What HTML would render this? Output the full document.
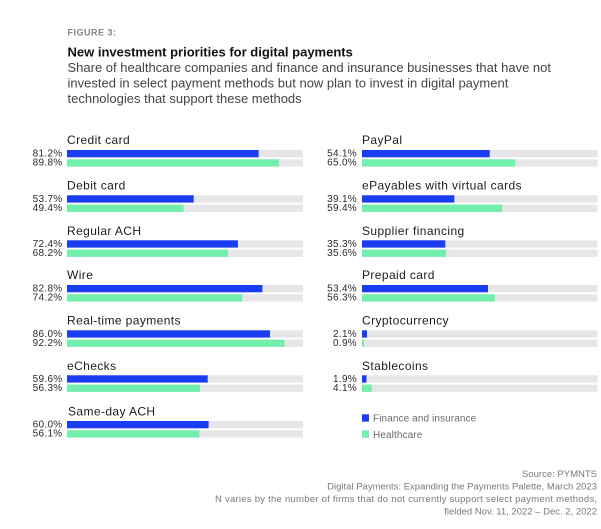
<!DOCTYPE html>
<html>
<head>
<meta charset="utf-8">
<style>
  html, body { margin: 0; padding: 0; background: #ffffff; }
  body { width: 601px; height: 529px; overflow: hidden; }
  svg { display: block; }
  text { font-family: "Liberation Sans", "DejaVu Sans", sans-serif; }
  .cat { font-size: 12px; letter-spacing: 0.4px; fill: #1c1c1c; }
  .pct { font-size: 10px; letter-spacing: 0.3px; fill: #2a2a2a; }
  .trk { fill: #e6e6e8; }
  .b { fill: #1a3cf3; }
  .g { fill: #72efad; }
  .foot { font-size: 9.5px; fill: #7a7a7a; }
  .leg { font-size: 10px; fill: #6a6a6a; letter-spacing: 0.1px; }
</style>
</head>
<body>
<svg width="601" height="529" viewBox="0 0 601 529" xmlns="http://www.w3.org/2000/svg">
  <rect x="0" y="0" width="601" height="529" fill="#ffffff"/>

  <!-- Header -->
  <text x="67.5" y="35.3" style="font-size:9px;font-weight:bold;letter-spacing:0.5px;fill:#858585;">FIGURE 3:</text>
  <text x="67.5" y="56.7" style="font-size:13px;font-weight:bold;fill:#111111;">New investment priorities for digital payments</text>
  <text x="67.5" y="72" style="font-size:13px;fill:#444444;">Share of healthcare companies and finance and insurance businesses that have not</text>
  <text x="67.5" y="87.5" style="font-size:13px;fill:#444444;">invested in select payment methods but now plan to invest in digital payment</text>
  <text x="67.5" y="103" style="font-size:13px;fill:#444444;">technologies that support these methods</text>

  <!-- LEFT COLUMN -->
  <text class="cat" x="67" y="144">Credit card</text>
  <rect class="trk" x="67" y="150" width="236" height="7.3"/>
  <rect class="b" x="67" y="150" width="191.6" height="7.3"/>
  <rect class="trk" x="67" y="159.3" width="236" height="7.3"/>
  <rect class="g" x="67" y="159.3" width="211.9" height="7.3"/>
  <text class="pct" x="62.5" y="156.5" text-anchor="end">81.2%</text>
  <text class="pct" x="62.5" y="165.5" text-anchor="end">89.8%</text>

  <text class="cat" x="67" y="189.3">Debit card</text>
  <rect class="trk" x="67" y="195.3" width="236" height="7.3"/>
  <rect class="b" x="67" y="195.3" width="126.7" height="7.3"/>
  <rect class="trk" x="67" y="204.6" width="236" height="7.3"/>
  <rect class="g" x="67" y="204.6" width="116.6" height="7.3"/>
  <text class="pct" x="62.5" y="201.8" text-anchor="end">53.7%</text>
  <text class="pct" x="62.5" y="210.8" text-anchor="end">49.4%</text>

  <text class="cat" x="67" y="235">Regular ACH</text>
  <rect class="trk" x="67" y="240.3" width="236" height="7.3"/>
  <rect class="b" x="67" y="240.3" width="170.9" height="7.3"/>
  <rect class="trk" x="67" y="249.6" width="236" height="7.3"/>
  <rect class="g" x="67" y="249.6" width="161.0" height="7.3"/>
  <text class="pct" x="62.5" y="246.8" text-anchor="end">72.4%</text>
  <text class="pct" x="62.5" y="255.8" text-anchor="end">68.2%</text>

  <text class="cat" x="67" y="279">Wire</text>
  <rect class="trk" x="67" y="285" width="236" height="7.3"/>
  <rect class="b" x="67" y="285" width="195.4" height="7.3"/>
  <rect class="trk" x="67" y="294.3" width="236" height="7.3"/>
  <rect class="g" x="67" y="294.3" width="175.1" height="7.3"/>
  <text class="pct" x="62.5" y="291.5" text-anchor="end">82.8%</text>
  <text class="pct" x="62.5" y="300.5" text-anchor="end">74.2%</text>

  <text class="cat" x="67" y="324.3">Real-time payments</text>
  <rect class="trk" x="67" y="330.3" width="236" height="7.3"/>
  <rect class="b" x="67" y="330.3" width="203.0" height="7.3"/>
  <rect class="trk" x="67" y="339.6" width="236" height="7.3"/>
  <rect class="g" x="67" y="339.6" width="217.6" height="7.3"/>
  <text class="pct" x="62.5" y="336.8" text-anchor="end">86.0%</text>
  <text class="pct" x="62.5" y="345.8" text-anchor="end">92.2%</text>

  <text class="cat" x="67" y="370">eChecks</text>
  <rect class="trk" x="67" y="375.3" width="236" height="7.3"/>
  <rect class="b" x="67" y="375.3" width="140.7" height="7.3"/>
  <rect class="trk" x="67" y="384.6" width="236" height="7.3"/>
  <rect class="g" x="67" y="384.6" width="132.9" height="7.3"/>
  <text class="pct" x="62.5" y="381.8" text-anchor="end">59.6%</text>
  <text class="pct" x="62.5" y="390.8" text-anchor="end">56.3%</text>

  <text class="cat" x="68" y="415.7">Same-day ACH</text>
  <rect class="trk" x="67" y="421" width="236" height="7.3"/>
  <rect class="b" x="67" y="421" width="141.6" height="7.3"/>
  <rect class="trk" x="67" y="430.3" width="236" height="7.3"/>
  <rect class="g" x="67" y="430.3" width="132.4" height="7.3"/>
  <text class="pct" x="62.5" y="427.5" text-anchor="end">60.0%</text>
  <text class="pct" x="62.5" y="436.5" text-anchor="end">56.1%</text>

  <!-- RIGHT COLUMN -->
  <text class="cat" x="362" y="144">PayPal</text>
  <rect class="trk" x="362" y="150" width="235.5" height="7.3"/>
  <rect class="b" x="362" y="150" width="127.7" height="7.3"/>
  <rect class="trk" x="362" y="159.3" width="235.5" height="7.3"/>
  <rect class="g" x="362" y="159.3" width="153.4" height="7.3"/>
  <text class="pct" x="357" y="156.5" text-anchor="end">54.1%</text>
  <text class="pct" x="357" y="165.5" text-anchor="end">65.0%</text>

  <text class="cat" x="362" y="189.3">ePayables with virtual cards</text>
  <rect class="trk" x="362" y="195.3" width="235.5" height="7.3"/>
  <rect class="b" x="362" y="195.3" width="92.3" height="7.3"/>
  <rect class="trk" x="362" y="204.6" width="235.5" height="7.3"/>
  <rect class="g" x="362" y="204.6" width="140.2" height="7.3"/>
  <text class="pct" x="357" y="201.8" text-anchor="end">39.1%</text>
  <text class="pct" x="357" y="210.8" text-anchor="end">59.4%</text>

  <text class="cat" x="362" y="235">Supplier financing</text>
  <rect class="trk" x="362" y="240.3" width="235.5" height="7.3"/>
  <rect class="b" x="362" y="240.3" width="83.3" height="7.3"/>
  <rect class="trk" x="362" y="249.6" width="235.5" height="7.3"/>
  <rect class="g" x="362" y="249.6" width="84.0" height="7.3"/>
  <text class="pct" x="357" y="246.8" text-anchor="end">35.3%</text>
  <text class="pct" x="357" y="255.8" text-anchor="end">35.6%</text>

  <text class="cat" x="362" y="279">Prepaid card</text>
  <rect class="trk" x="362" y="285" width="235.5" height="7.3"/>
  <rect class="b" x="362" y="285" width="126.0" height="7.3"/>
  <rect class="trk" x="362" y="294.3" width="235.5" height="7.3"/>
  <rect class="g" x="362" y="294.3" width="132.9" height="7.3"/>
  <text class="pct" x="357" y="291.5" text-anchor="end">53.4%</text>
  <text class="pct" x="357" y="300.5" text-anchor="end">56.3%</text>

  <text class="cat" x="362" y="324.3">Cryptocurrency</text>
  <rect class="trk" x="362" y="330.3" width="235.5" height="7.3"/>
  <rect class="b" x="362" y="330.3" width="5.0" height="7.3"/>
  <rect class="trk" x="362" y="339.6" width="235.5" height="7.3"/>
  <rect class="g" x="362" y="339.6" width="2.1" height="7.3"/>
  <text class="pct" x="357" y="336.8" text-anchor="end">2.1%</text>
  <text class="pct" x="357" y="345.8" text-anchor="end">0.9%</text>

  <text class="cat" x="362" y="370">Stablecoins</text>
  <rect class="trk" x="362" y="375.3" width="235.5" height="7.3"/>
  <rect class="b" x="362" y="375.3" width="4.5" height="7.3"/>
  <rect class="trk" x="362" y="384.6" width="235.5" height="7.3"/>
  <rect class="g" x="362" y="384.6" width="9.7" height="7.3"/>
  <text class="pct" x="357" y="381.8" text-anchor="end">1.9%</text>
  <text class="pct" x="357" y="390.8" text-anchor="end">4.1%</text>

  <!-- Legend -->
  <rect class="b" x="362" y="414.3" width="7" height="7.3"/>
  <text class="leg" x="373" y="421.6">Finance and insurance</text>
  <rect class="g" x="362" y="430.5" width="7" height="7.3"/>
  <text class="leg" x="373" y="437.8">Healthcare</text>

  <!-- Footer -->
  <text class="foot" x="597" y="477" text-anchor="end">Source: PYMNTS</text>
  <text class="foot" x="597" y="489.5" text-anchor="end">Digital Payments: Expanding the Payments Palette, March 2023</text>
  <text class="foot" x="215" y="502" textLength="382" lengthAdjust="spacing">N varies by the number of firms that do not currently support select payment methods,</text>
  <text class="foot" x="597" y="514.5" text-anchor="end">fielded Nov. 11, 2022 – Dec. 2, 2022</text>
</svg>
</body>
</html>
